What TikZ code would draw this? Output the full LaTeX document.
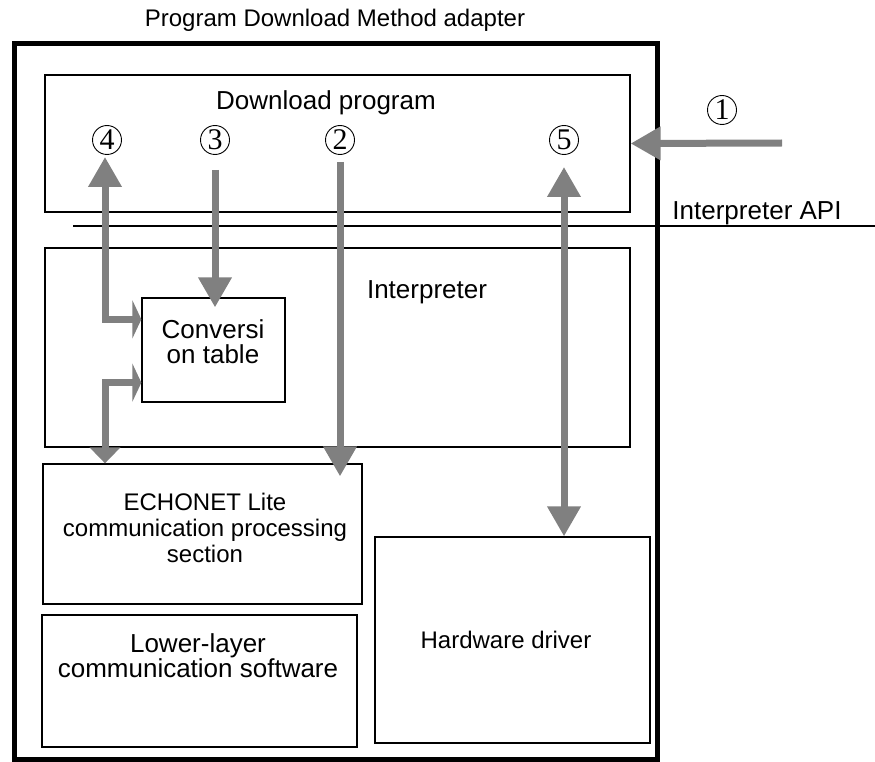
\documentclass[tikz,border=0pt]{standalone}
\usepackage{fontspec}
\setmainfont{Liberation Sans}
\newfontfamily\numfont{Liberation Serif}
\usetikzlibrary{arrows.meta,calc}
\definecolor{arrgray}{RGB}{128,128,128}
\tikzset{blk/.style={draw,line width=1.3pt,inner sep=0pt},
  txt/.style={align=center,inner sep=0pt,font=\fontsize{24}{26}\selectfont},
  bigtxt/.style={align=center,inner sep=0pt,font=\fontsize{26}{25}\selectfont},
  num/.style={circle,draw,line width=0.9pt,minimum size=29pt,inner sep=0pt,font=\numfont\fontsize{30}{30}\selectfont},
  gtip/.tip={Triangle[length=30pt,width=32pt]},
  garr/.style={draw=arrgray,line width=7pt,-gtip}}

\begin{document}
\begin{tikzpicture}[x=1pt,y=-1pt]
\useasboundingbox(0,0)rectangle(875,762);
\node[txt](title)at(335,20){Program Download Method adapter};
\node[draw,line width=5pt,minimum width=643pt,minimum height=715pt](adapter)at(335.5,401.5){};
% boxes
\node[blk,minimum width=585pt,minimum height=137pt](dl)at(337.5,143.5){};
\node[blk,minimum width=585pt,minimum height=199pt](interp)at(337.5,347.5){};
\node[blk,fill=white,minimum width=143pt,minimum height=104pt](conv)at(213.5,350){};
\node[blk,minimum width=319pt,minimum height=140pt](ecl)at(202.5,534){};
\node[blk,minimum width=315pt,minimum height=132pt](low)at(199.5,681){};
\node[blk,minimum width=275pt,minimum height=206pt](hw)at(512.5,640){};
% texts
\node[bigtxt](dltxt)at(326,103){Download program};
\node[bigtxt](intxt)at(427,292){Interpreter};
\node[bigtxt](convtxt)at(213,342){Conversi\\on table};
\node[txt](ecltxt)at(205,528){ECHONET Lite\\communication processing\\section};
\node[bigtxt](lowtxt)at(198,656){Lower-layer\\communication software};
\node[txt](hwtxt)at(506,640){Hardware driver};
% API line
\coordinate(apiL)at(73,226);
\coordinate(apiR)at(875,226);
\draw[line width=1.3pt](apiL)--(apiR);
\node[bigtxt](api)at(757,213){Interpreter API};
% numbers
\node[num](n1)at(722,110){1};
\node[num](n2)at(340,140){2};
\node[num](n3)at(215,140){3};
\node[num](n4)at(107,140){4};
\node[num](n5)at(564,140){5};
\coordinate(src)at(782,143);
% arrows
\draw[garr](src)--(dl.east);
\draw[garr]($(n2)+(0,22)$)--($(n2|-ecl.north)+(0,13)$);
\draw[garr]($(n3)+(0,30)$)--($(n3|-conv.north)+(0,10)$);
\draw[garr,gtip-{Triangle[length=9pt,width=38pt]}]($(n4)+(-2,17)$)|-($(conv.north west)+(0,22)$);
\draw[garr,{Triangle[length=9pt,width=38pt]}-{Triangle[length=16pt,width=30pt]}]($(conv.south west)+(0,-20)$)-|($(n4|-ecl.north)+(-2,0)$);
\draw[garr,gtip-gtip]($(n5)+(0,27)$)--(n5|-hw.north);
\end{tikzpicture}
\end{document}
